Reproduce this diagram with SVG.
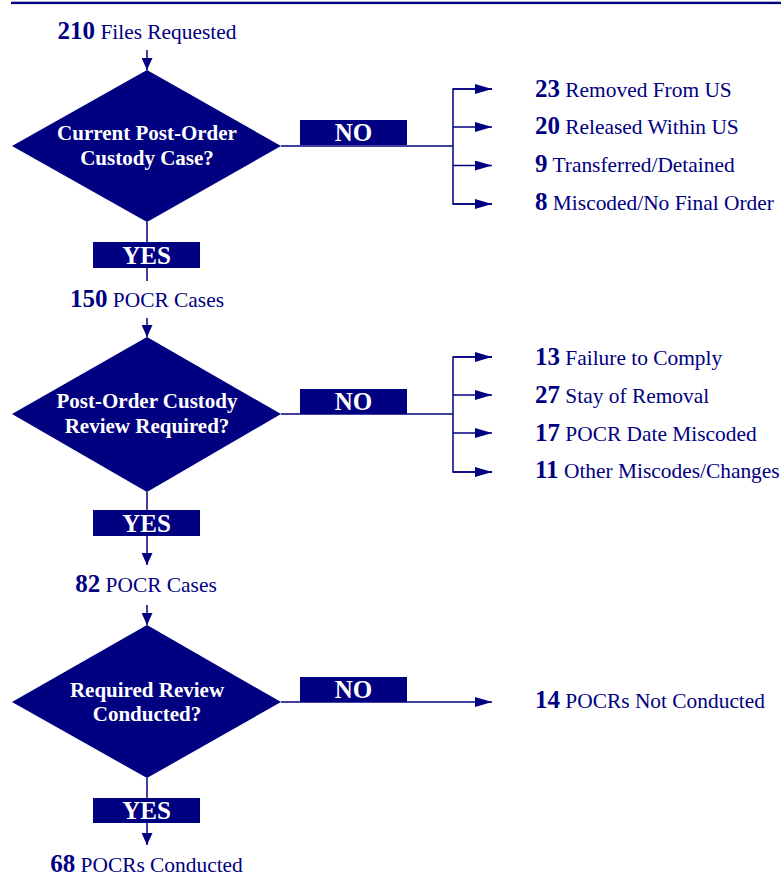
<svg xmlns="http://www.w3.org/2000/svg" width="781" height="879" viewBox="0 0 781 879">
<defs>
<style>
.n{fill:#000080}
.t{font-family:"Liberation Serif","Times New Roman",serif;fill:#000080;font-size:21.4px}
.b{font-weight:bold;font-size:25px}
.d{font-family:"Liberation Serif","Times New Roman",serif;fill:#ffffff;font-size:21px;font-weight:bold;text-anchor:middle}
.lb{font-family:"Liberation Serif","Times New Roman",serif;fill:#ffffff;font-size:25px;font-weight:bold;text-anchor:middle}
.c{stroke:#000080;stroke-width:1.5;fill:none}
</style>
<marker id="ah" markerUnits="userSpaceOnUse" markerWidth="17" markerHeight="10" refX="17" refY="5" orient="auto"><path d="M0,0 L17,5 L0,10 z" fill="#000080"/></marker>
<marker id="av" markerUnits="userSpaceOnUse" markerWidth="12" markerHeight="11" refX="12" refY="5.5" orient="auto"><path d="M0,0 L12,5.5 L0,11 z" fill="#000080"/></marker>
</defs>
<rect x="11" y="1.7" width="770" height="2.4" class="n"/>

<g id="connectors">
<line class="c" x1="147" y1="50" x2="147" y2="70" marker-end="url(#av)"/>
<line class="c" x1="147" y1="222" x2="147" y2="281"/>
<line class="c" x1="281" y1="146" x2="453" y2="146"/>
<path class="c" d="M492,89 H453 V204 H492"/>
<line class="c" x1="453" y1="89" x2="492" y2="89" marker-end="url(#ah)"/>
<line class="c" x1="453" y1="127" x2="492" y2="127" marker-end="url(#ah)"/>
<line class="c" x1="453" y1="165.5" x2="492" y2="165.5" marker-end="url(#ah)"/>
<line class="c" x1="453" y1="204" x2="492" y2="204" marker-end="url(#ah)"/>

<line class="c" x1="147" y1="318" x2="147" y2="337" marker-end="url(#av)"/>
<line class="c" x1="281" y1="414" x2="453" y2="414"/>
<path class="c" d="M492,357 H453 V472 H492"/>
<line class="c" x1="453" y1="357" x2="492" y2="357" marker-end="url(#ah)"/>
<line class="c" x1="453" y1="395" x2="492" y2="395" marker-end="url(#ah)"/>
<line class="c" x1="453" y1="433" x2="492" y2="433" marker-end="url(#ah)"/>
<line class="c" x1="453" y1="472" x2="492" y2="472" marker-end="url(#ah)"/>
<line class="c" x1="147" y1="492" x2="147" y2="565" marker-end="url(#av)"/>

<line class="c" x1="147" y1="605" x2="147" y2="625" marker-end="url(#av)"/>
<line class="c" x1="281" y1="702" x2="492" y2="702" marker-end="url(#ah)"/>
<line class="c" x1="147" y1="778" x2="147" y2="845" marker-end="url(#av)"/>
</g>

<g id="start"><text class="t" x="147" y="39" text-anchor="middle"><tspan class="b">210</tspan> Files Requested</text></g>

<g id="decision1">
<polygon class="n" points="147,70 281,146 147,222 12,146"/>
<text class="d" x="147" y="140">Current Post-Order</text>
<text class="d" x="147" y="165">Custody Case?</text>
</g>
<g id="no1"><rect class="n" x="300" y="120" width="107" height="25"/><text class="lb" x="353.5" y="141">NO</text></g>
<g id="yes1"><rect class="n" x="93" y="242" width="107" height="26"/><text class="lb" x="146.5" y="264">YES</text></g>
<g id="out1a"><text class="t" x="535" y="97"><tspan class="b">23</tspan> Removed From US</text></g>
<g id="out1b"><text class="t" x="535" y="134"><tspan class="b">20</tspan> Released Within US</text></g>
<g id="out1c"><text class="t" x="535" y="172"><tspan class="b">9</tspan> Transferred/Detained</text></g>
<g id="out1d"><text class="t" x="535" y="210"><tspan class="b">8</tspan> Miscoded/No Final Order</text></g>

<g id="cases150"><text class="t" x="147" y="307" text-anchor="middle"><tspan class="b">150</tspan> POCR Cases</text></g>

<g id="decision2">
<polygon class="n" points="147,337 281,414 147,492 12,414"/>
<text class="d" x="147" y="408">Post-Order Custody</text>
<text class="d" x="147" y="433">Review Required?</text>
</g>
<g id="no2"><rect class="n" x="300" y="389" width="107" height="25"/><text class="lb" x="353.5" y="410">NO</text></g>
<g id="yes2"><rect class="n" x="93" y="510" width="107" height="26"/><text class="lb" x="146.5" y="532">YES</text></g>
<g id="out2a"><text class="t" x="535" y="365"><tspan class="b">13</tspan> Failure to Comply</text></g>
<g id="out2b"><text class="t" x="535" y="403"><tspan class="b">27</tspan> Stay of Removal</text></g>
<g id="out2c"><text class="t" x="535" y="441"><tspan class="b">17</tspan> POCR Date Miscoded</text></g>
<g id="out2d"><text class="t" x="535" y="478"><tspan class="b">11</tspan> Other Miscodes/Changes</text></g>

<g id="cases82"><text class="t" x="146" y="592" text-anchor="middle"><tspan class="b">82</tspan> POCR Cases</text></g>

<g id="decision3">
<polygon class="n" points="147,625 281,702 147,778 12,702"/>
<text class="d" x="147" y="697">Required Review</text>
<text class="d" x="147" y="721">Conducted?</text>
</g>
<g id="no3"><rect class="n" x="300" y="677" width="107" height="25"/><text class="lb" x="353.5" y="698">NO</text></g>
<g id="yes3"><rect class="n" x="93" y="798" width="107" height="25"/><text class="lb" x="146.5" y="819">YES</text></g>
<g id="out3"><text class="t" x="535" y="708"><tspan class="b">14</tspan> POCRs Not Conducted</text></g>
<g id="end"><text class="t" x="146.5" y="872" text-anchor="middle"><tspan class="b">68</tspan> POCRs Conducted</text></g>
</svg>
